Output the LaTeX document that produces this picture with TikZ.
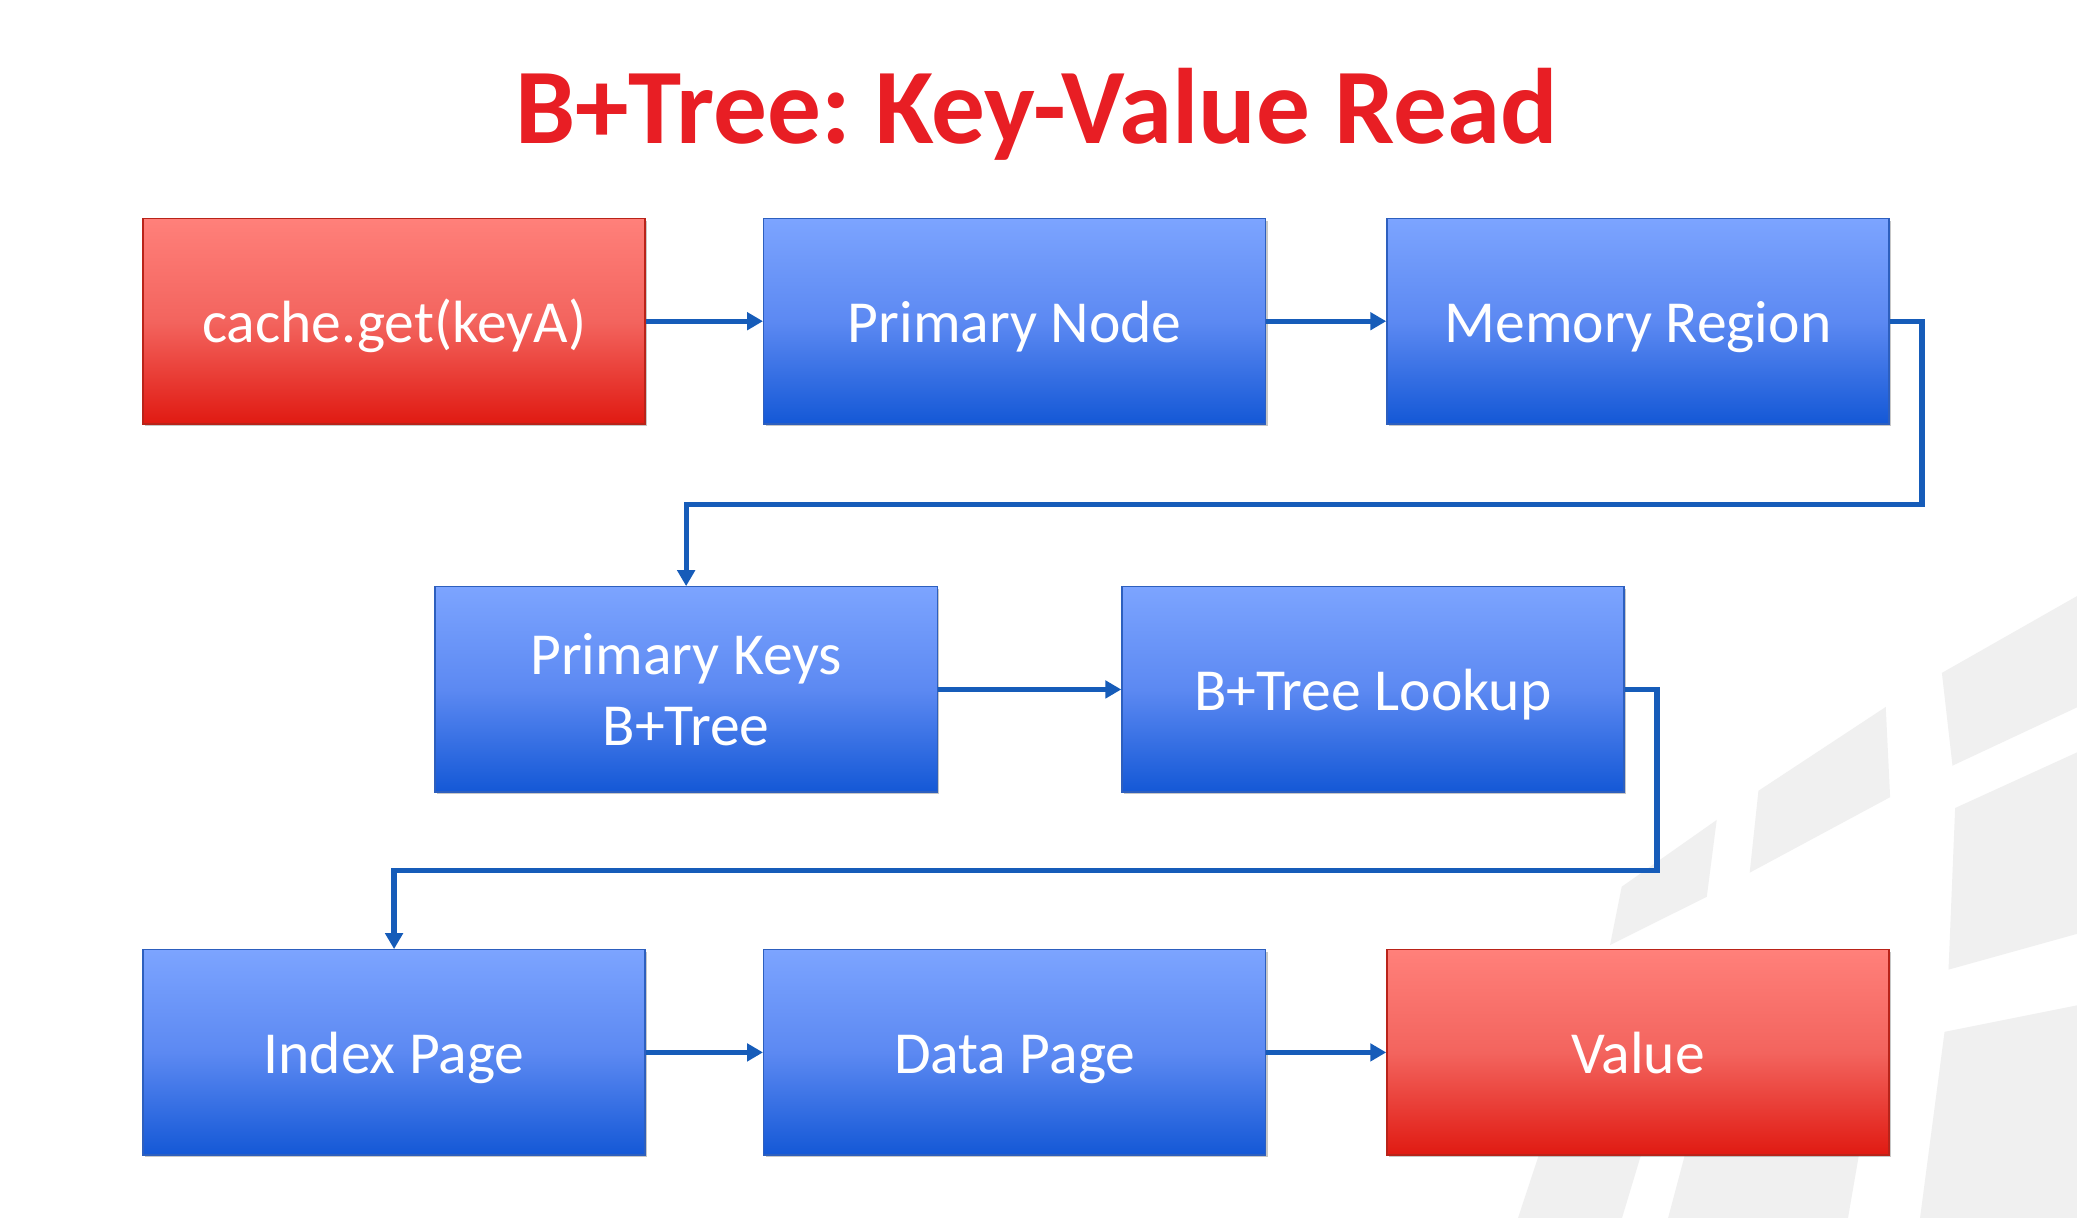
\documentclass[tikz,border=0pt]{standalone}
\usepackage{fontspec}
\setmainfont{Carlito}
\frenchspacing
\usetikzlibrary{arrows.meta,shadows,calc}
\definecolor{titlered}{RGB}{232,30,36}
\definecolor{arrowblue}{RGB}{22,92,185}
\definecolor{bluetop}{RGB}{124,164,255}
\definecolor{bluemid}{RGB}{92,137,242}
\definecolor{bluebot}{RGB}{20,88,214}
\definecolor{blueline}{RGB}{45,95,190}
\definecolor{redtop}{RGB}{255,128,122}
\definecolor{redmid}{RGB}{243,100,94}
\definecolor{redbot}{RGB}{224,26,18}
\definecolor{redline}{RGB}{185,35,25}
\definecolor{wmgray}{RGB}{240,240,240}
\tikzset{
  box/.style={rectangle, minimum width=379pt, minimum height=155pt, inner sep=0pt,
    align=center, text=white, font=\fontsize{45}{54}\selectfont, line width=1pt,
    drop shadow={shadow xshift=1.5pt, shadow yshift=-1.5pt, opacity=0.22, fill=black}},
  oneline/.style={text height=38pt, text depth=6pt},
  bluebox/.style={box, draw=blueline, top color=bluetop, bottom color=bluebot, middle color=bluemid},
  redbox/.style={box, draw=redline, top color=redtop, bottom color=redbot, middle color=redmid},
  conn/.style={draw=arrowblue, line width=4pt, line join=miter,
    -{Triangle[length=12pt,width=13pt]}},
  wm/.style={fill=wmgray, draw=none}
}
\begin{document}
\begin{tikzpicture}[x=1pt,y=-1pt]
\useasboundingbox (0,0) rectangle (1568,919.5);
\fill[white] (0,0) rectangle (1568,919.5);
% watermark
\fill[wm] (1466,508) -- (1568,450) -- (1568,534) -- (1474,578) -- cycle;
\fill[wm] (1476,610) -- (1568,568) -- (1568,705) -- (1471,732) -- cycle;
\fill[wm] (1468,779) -- (1568,759) -- (1568,919.5) -- (1449.5,919.5) -- cycle;
\fill[wm] (1327.5,597) -- (1423.6,533.7) -- (1426.9,601.8) -- (1320.9,658.8) -- cycle;
\fill[wm] (1224.3,669.4) -- (1296,619) -- (1288.5,677) -- (1215.5,713.4) -- cycle;
\fill[wm] (1163,868) -- (1240,868) -- (1224.5,919.5) -- (1146,919.5) -- cycle;
\fill[wm] (1273,868) -- (1404,868) -- (1395.1,919.5) -- (1259.3,919.5) -- cycle;
% title
\node[font=\bfseries\fontsize{81}{97}\selectfont, text=titlered, anchor=base, inner sep=0pt]
  (title) at (782.5,108) {B+Tree: Key-Value Read};
% boxes
\node[redbox, oneline]  (get) at (297.5,242.5) {cache.get(keyA)};
\node[bluebox, oneline] (pn)  at (766,242.5)   {Primary Node};
\node[bluebox, oneline] (mr)  at (1236.5,242.5) {Memory Region};
\node[bluebox]          (pk)  at (518,520.5)   {Primary Keys\\B+Tree};
\node[bluebox, oneline] (bl)  at (1036.5,520.5) {B+Tree Lookup};
\node[bluebox, oneline] (ip)  at (297.5,794.5) {Index Page};
\node[bluebox, oneline] (dp)  at (766,794.5)   {Data Page};
\node[redbox, oneline]  (val) at (1236.5,794.5) {Value};
% connectors
\coordinate (t1) at (1451,381);
\coordinate (t2) at (1251,657);
\draw[conn] (get.east) -- (pn.west);
\draw[conn] (pn.east) -- (mr.west);
\draw[conn] (mr.east) -| (t1) -| (pk.north);
\draw[conn] (pk.east) -- (bl.west);
\draw[conn] (bl.east) -| (t2) -| (ip.north);
\draw[conn] (ip.east) -- (dp.west);
\draw[conn] (dp.east) -- (val.west);
\end{tikzpicture}
\end{document}
